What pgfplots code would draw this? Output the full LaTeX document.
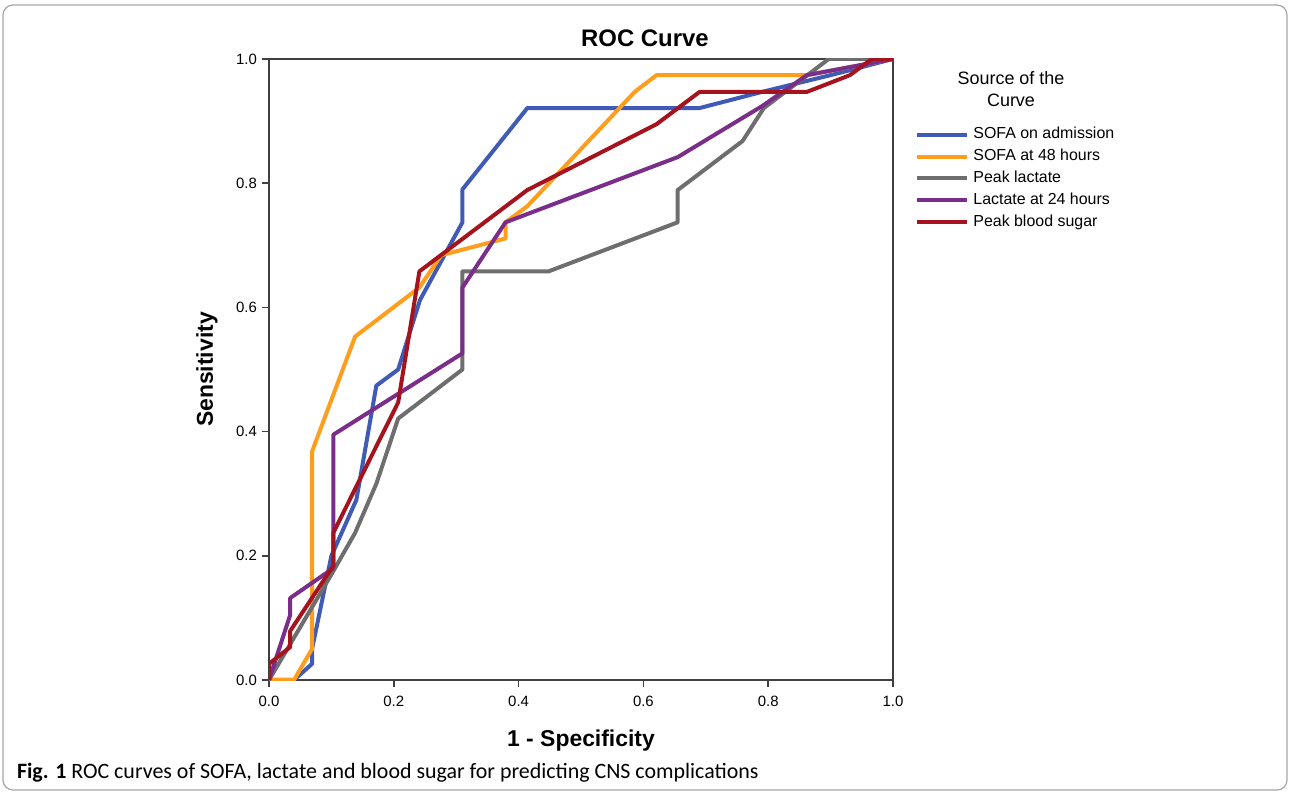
\documentclass[border=0pt]{standalone}
\usepackage{pgfplots}
\pgfplotsset{compat=1.18}
\usepackage{fontspec}
\setmainfont{Liberation Sans}
\newfontfamily\capfont{Carlito}
\definecolor{cblue}{HTML}{3F5BB5}
\definecolor{corange}{HTML}{FF9E1C}
\definecolor{cgray}{HTML}{6E6E6E}
\definecolor{cpurple}{HTML}{7B2D8A}
\definecolor{cred}{HTML}{A5141E}
\begin{document}
\begin{tikzpicture}
\useasboundingbox (0,0) rectangle (645bp,397.5bp);
\draw[gray!70, line width=0.6bp, rounded corners=5bp] (1.5bp,2.5bp) rectangle (643.5bp,395bp);
\begin{axis}[
  at={(134.5bp,57.5bp)}, anchor=south west,
  scale only axis, width=312bp, height=310.5bp,
  xmin=0, xmax=1, ymin=0, ymax=1,
  xtick={0,0.2,0.4,0.6,0.8,1}, ytick={0,0.2,0.4,0.6,0.8,1},
  tick pos=left, tick align=outside, major tick length=3.5bp,
  axis line style={gray!50!black, line width=0.8bp},
  every tick/.style={gray!50!black, line width=0.8bp},
  ticklabel style={font=\fontsize{7.5}{9}\selectfont},
  /pgf/number format/assume math mode=true,
  /pgf/number format/.cd, fixed, precision=1, zerofill, /pgfplots/.cd,
  xticklabel style={yshift=-1bp},
  yticklabel style={xshift=1bp},
  xlabel={1 - Specificity},
  ylabel={Sensitivity},
  label style={font=\bfseries\fontsize{11.5}{13}\selectfont},
  xlabel style={at={(axis description cs:0.5,-0.0982)}, anchor=center},
  ylabel style={at={(axis description cs:-0.0994,0.5)}, anchor=center, rotate=0},
  legend style={at={(axis description cs:1,1)}, anchor=north west,
    xshift=10bp, yshift=-31bp, draw=none, fill=none,
    font=\fontsize{8}{9.6}\selectfont, row sep=-0.3bp, inner sep=1bp},
  legend cell align=left,
  legend image code/.code={\draw[#1, line width=2bp] (0bp,0bp) -- (25bp,0bp);},
  every axis plot/.append style={line width=2bp, line join=round},
]
\addplot[cblue] coordinates {
  (0,0) (0.04,0) (0.069,0.026) (0.069,0.05) (0.1,0.2) (0.14,0.29) (0.172,0.474)
  (0.207,0.5) (0.242,0.612) (0.31,0.737) (0.31,0.79) (0.414,0.921) (0.69,0.921)
  (0.79,0.947) (0.9,0.974) (1,1)};
\addlegendentry{SOFA on admission}
\addplot[corange] coordinates {
  (0,0) (0.04,0) (0.069,0.05) (0.069,0.368) (0.138,0.553) (0.241,0.632)
  (0.276,0.684) (0.379,0.711) (0.379,0.737) (0.414,0.763) (0.586,0.947)
  (0.621,0.974) (0.862,0.974) (1,1)};
\addlegendentry{SOFA at 48 hours}
\addplot[cgray] coordinates {
  (0,0) (0.1,0.17) (0.138,0.237) (0.172,0.316) (0.207,0.421) (0.31,0.5)
  (0.31,0.658) (0.448,0.658) (0.655,0.737) (0.655,0.789) (0.759,0.868)
  (0.793,0.921) (0.897,1) (1,1)};
\addlegendentry{Peak lactate}
\addplot[cpurple] coordinates {
  (0,0) (0.034,0.105) (0.034,0.132) (0.103,0.18) (0.103,0.395) (0.31,0.526)
  (0.31,0.632) (0.379,0.737) (0.655,0.842) (0.79,0.924) (0.862,0.974) (1,1)};
\addlegendentry{Lactate at 24 hours}
\addplot[cred] coordinates {
  (0,0) (0,0.026) (0.034,0.053) (0.034,0.079) (0.103,0.184) (0.103,0.237)
  (0.207,0.447) (0.241,0.658) (0.414,0.789) (0.621,0.895) (0.69,0.947)
  (0.862,0.947) (0.931,0.974) (0.966,1) (1,1)};
\addlegendentry{Peak blood sugar}
\end{axis}
\node[font=\bfseries\fontsize{12}{14}\selectfont] at (322.5bp,378.5bp) {ROC Curve};
\node[font=\fontsize{9}{11}\selectfont, align=center] at (505.5bp,353bp) {Source of the\\Curve};
\node[anchor=west, font=\capfont\fontsize{11}{13}\selectfont] at (5bp,11bp) {\textbf{Fig. 1} ROC curves of SOFA, lactate and blood sugar for predicting CNS complications};
\end{tikzpicture}
\end{document}
